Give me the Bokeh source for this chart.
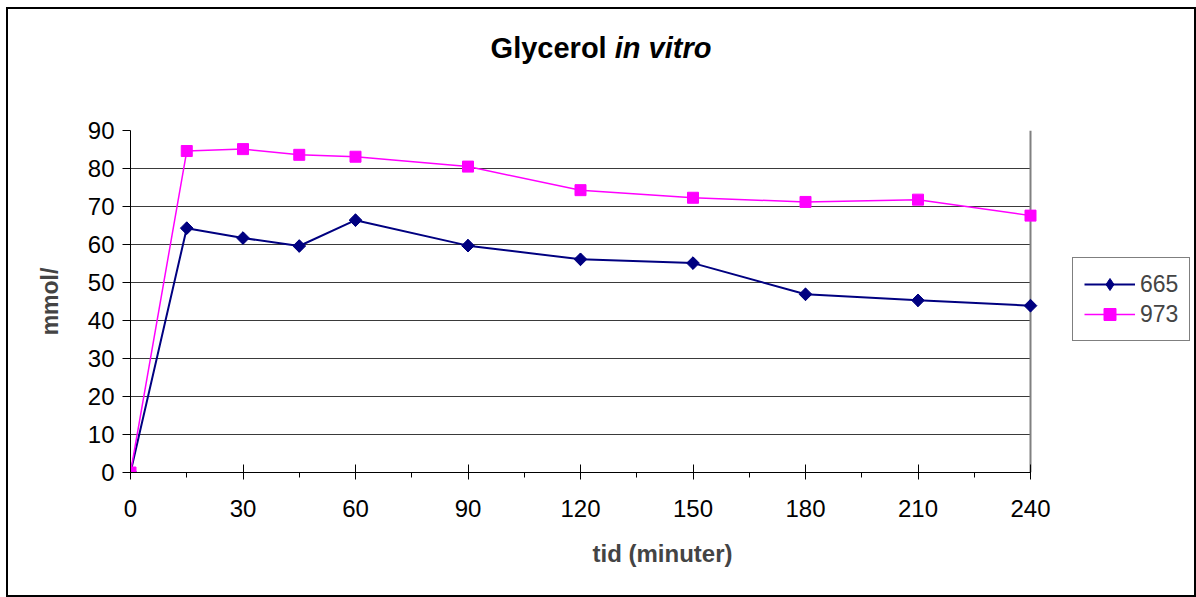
from bokeh.plotting import figure
from bokeh.models import (Range1d, FixedTicker, Legend, LegendItem, Div,
                          BoxAnnotation, Span)
from bokeh.layouts import column
from bokeh.embed import file_html
from bokeh.resources import INLINE

# ---- data ----
time_min = [0, 15, 30, 45, 60, 90, 120, 150, 180, 210, 240]
s665 = [0, 64.3, 61.7, 59.6, 66.4, 59.7, 56.1, 55.1, 46.9, 45.3, 43.9]
s973 = [0, 84.6, 85.1, 83.6, 83.1, 80.5, 74.3, 72.3, 71.2, 71.8, 67.6]
series_names = ["665", "973"]
x_major = [0, 30, 60, 90, 120, 150, 180, 210, 240]
x_minor = [15, 45, 75, 105, 135, 165, 195, 225]
y_major = [0, 10, 20, 30, 40, 50, 60, 70, 80, 90]
title_main = "Glycerol"
title_ital = "in vitro"
x_title = "tid (minuter)"
y_title = "mmol/"

FONT = "Liberation Sans"
NAVY = "#000080"
MAGENTA = "#FF00FF"

X_MAX = 240
Y_MAX = 90
# the frame is extended to the right (blank area holds the legend)
X_VIEW_END = X_MAX + 164 / 3.75

title_div = Div(
    text=(f'<div style="width:1186px;text-align:center;padding-top:25px;'
          f'font-family:\'{FONT}\';font-weight:bold;font-size:29px;line-height:29px;'
          f'color:black;">{title_main} <i>{title_ital}</i></div>'),
    width=1186, height=66, margin=0)

p = figure(width=1186, height=520, output_backend="svg", toolbar_location=None,
           x_range=Range1d(0, X_VIEW_END), y_range=Range1d(0, Y_MAX),
           min_border_left=122, min_border_top=55, min_border_right=0,
           min_border_bottom=123, margin=0)
p.background_fill_color = "white"
p.border_fill_color = "white"
p.outline_line_color = None

# axes
xa = p.xaxis[0]
xa.ticker = FixedTicker(ticks=x_major, minor_ticks=x_minor)
xa.bounds = (0, X_MAX)
xa.major_label_text_font = FONT
xa.major_label_text_font_size = "24px"
xa.major_label_text_color = "black"
xa.major_tick_in = 8
xa.major_tick_out = 7
xa.minor_tick_in = 0
xa.minor_tick_out = 5
xa.axis_line_color = "black"
xa.major_tick_line_color = "black"
xa.minor_tick_line_color = "black"
xa.major_label_standoff = 20
xa.axis_label = x_title
xa.axis_label_text_font = FONT
xa.axis_label_text_font_style = "bold"
xa.axis_label_text_font_size = "24px"
xa.axis_label_standoff = 20

ya = p.yaxis[0]
ya.ticker = FixedTicker(ticks=y_major, minor_ticks=[])
ya.major_label_text_font = FONT
ya.major_label_text_font_size = "24px"
ya.major_label_text_color = "black"
ya.major_tick_in = 0
ya.major_tick_out = 8
ya.axis_line_color = "black"
ya.major_tick_line_color = "black"
ya.major_label_standoff = 8
ya.axis_label = y_title
ya.axis_label_text_font = FONT
ya.axis_label_text_font_style = "bold"
ya.axis_label_text_font_size = "23px"
ya.axis_label_standoff = 22

p.xgrid.grid_line_color = None
p.ygrid.grid_line_color = "#3a3a3a"
p.ygrid.grid_line_width = 1

# blank-out of the area right of the plot, and the plot-area right border
blank = BoxAnnotation(left=X_MAX, fill_color="white", fill_alpha=1.0,
                      line_color=None, level="underlay")
p.add_layout(blank)
right_border = Span(location=X_MAX, dimension="height", line_color="#808080",
                    line_width=2, level="underlay")
p.add_layout(right_border)

# series
l1 = p.line(time_min, s665, line_color=NAVY, line_width=2)
proxy1 = p.scatter(time_min, s665, marker="diamond", size=12,
                   fill_color=NAVY, line_color=NAVY)
m1 = p.scatter(time_min, s665, marker="square", angle=0.785398, size=9,
               fill_color=NAVY, line_color=NAVY)
l2 = p.line(time_min, s973, line_color=MAGENTA, line_width=1.5)
m2 = p.scatter(time_min, s973, marker="square", size=11,
               fill_color=MAGENTA, line_color=MAGENTA)

legend = Legend(items=[LegendItem(label=series_names[0], renderers=[l1, proxy1]),
                       LegendItem(label=series_names[1], renderers=[l2, m2])],
                location=(942, 131), orientation="vertical")
legend.label_text_font = FONT
legend.label_text_font_size = "23px"
legend.glyph_width = 51
legend.glyph_height = 30
legend.label_height = 30
legend.label_standoff = 5
legend.padding = 11
legend.spacing = 0
legend.margin = 0
legend.border_line_color = "black"
legend.border_line_width = 1
legend.background_fill_color = "white"
p.add_layout(legend, "center")

layout = column(title_div, p, spacing=0)
layout.styles = {"margin-left": "6px", "margin-top": "7px",
                 "border": "2px solid black"}

open("out.html", "w").write(file_html(layout, INLINE))
